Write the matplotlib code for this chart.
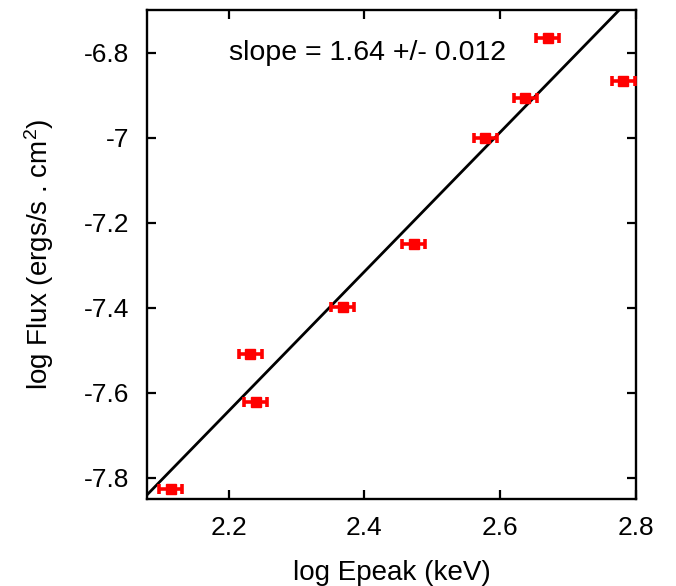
import numpy as np
import matplotlib
matplotlib.use('Agg')
import matplotlib.pyplot as plt
from matplotlib import rcParams

rcParams['font.family'] = ['Liberation Sans', 'DejaVu Sans']
rcParams['mathtext.fontset'] = 'custom'
rcParams['mathtext.rm'] = 'Liberation Sans'
rcParams['mathtext.it'] = 'Liberation Sans'
rcParams['font.size'] = 19

# data
log_epeak = [2.115, 2.232, 2.240, 2.368, 2.473, 2.578, 2.637, 2.670, 2.781]
log_flux = [-7.827, -7.508, -7.622, -7.399, -7.251, -7.002, -6.908, -6.765, -6.867]
epeak_err = [0.017, 0.017, 0.017, 0.017, 0.017, 0.017, 0.017, 0.017, 0.017]
flux_err = [0.003, 0.003, 0.003, 0.003, 0.003, 0.003, 0.003, 0.003, 0.008]

# fit line
slope = 1.64
intercept = -11.2515
xfit = np.array([2.0, 2.9])

fig = plt.figure(figsize=(6.76, 5.86), dpi=100)
ax = fig.add_axes([147/676, 1 - 499/586, (636-147)/676, (499-10)/586])

ax.plot(xfit, slope*xfit + intercept, color='k', lw=2.0, zorder=2)
ax.errorbar(log_epeak, log_flux, xerr=epeak_err, yerr=flux_err, fmt='s',
            color='red', ms=6.5, elinewidth=2.6, capsize=3.5, capthick=2.6,
            zorder=3)

ax.text(2.2, -6.8, 'slope = 1.64 +/- 0.012', ha='left', va='center', fontsize=20.5)

ax.set_xlim(2.08, 2.8)
ax.set_ylim(-7.85, -6.7)
ax.set_xticks([2.2, 2.4, 2.6, 2.8])
ax.set_xticklabels(['2.2', '2.4', '2.6', '2.8'])
ax.set_yticks([-7.8, -7.6, -7.4, -7.2, -7.0, -6.8])
ax.set_yticklabels(['-7.8', '-7.6', '-7.4', '-7.2', '-7', '-6.8'])
ax.tick_params(direction='in', length=6.5, width=1.6, top=True, right=True, labelsize=19)
ax.tick_params(axis='x', pad=12)
ax.tick_params(axis='y', pad=13)
for s in ax.spines.values():
    s.set_linewidth(1.7)

ax.set_xlabel('log Epeak (keV)', fontsize=20, labelpad=15)
ax.set_ylabel(r'log Flux (ergs/s . cm$^{2}$)', fontsize=20, labelpad=20)

fig.savefig('out.png', dpi=100)
